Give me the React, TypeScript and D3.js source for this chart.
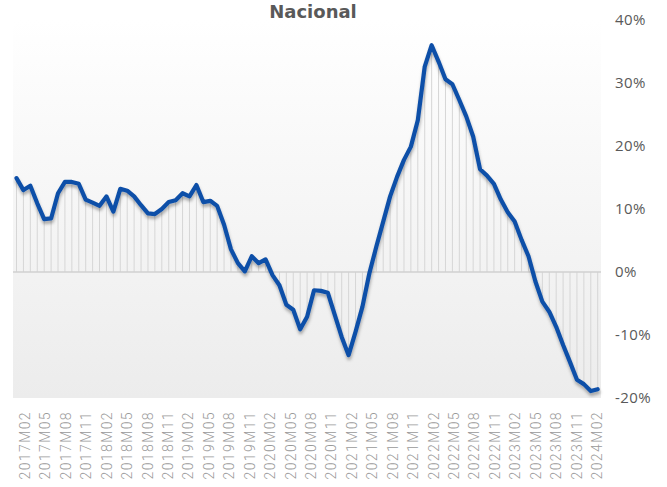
import React from "react";
import * as d3 from "d3";

const W = 667;
const H = 487;

// Monthly categories 2017M02 .. 2024M02
const categories: string[] = [];
for (let y = 2017; y <= 2024; y++) {
  for (let m = 1; m <= 12; m++) {
    if ((y === 2017 && m < 2) || (y === 2024 && m > 2)) continue;
    categories.push(`${y}M${String(m).padStart(2, "0")}`);
  }
}

const values: number[] = [
  14.9, 13.0, 13.7, 10.9, 8.4, 8.5, 12.5, 14.3, 14.3, 14.0,
  11.5, 11.0, 10.5, 12.0, 9.6, 13.2, 12.9, 12.0, 10.6, 9.3,
  9.2, 10.0, 11.1, 11.4, 12.5, 12.0, 13.8, 11.1, 11.3, 10.5,
  7.5, 3.6, 1.4, 0.1, 2.5, 1.4, 2.0, -0.5, -2.1, -5.2,
  -6.0, -9.1, -7.1, -2.9, -3.0, -3.3, -6.8, -10.3, -13.2, -9.5,
  -5.5, -0.2, 4.0, 8.0, 12.0, 15.1, 17.8, 19.9, 24.1, 32.6,
  36.0, 33.4, 30.6, 29.8, 27.3, 24.7, 21.5, 16.3, 15.3, 14.0,
  11.5, 9.5, 8.0, 5.1, 2.5, -1.5, -4.7, -6.3, -8.7, -11.6,
  -14.3, -17.1, -17.8, -18.9, -18.6,
];

const tickLabels: string[] = [
  "2017M02", "2017M05", "2017M08", "2017M11",
  "2018M02", "2018M05", "2018M08", "2018M11",
  "2019M02", "2019M05", "2019M08", "2019M11",
  "2020M02", "2020M05", "2020M08", "2020M11",
  "2021M02", "2021M05", "2021M08", "2021M11",
  "2022M02", "2022M05", "2022M08", "2022M11",
  "2023M02", "2023M05", "2023M08", "2023M11",
  "2024M02",
];

const yTicks: number[] = [-20, -10, 0, 10, 20, 30, 40];

const title = "Nacional";

export default function App() {
  const plotLeft = 13;
  const plotRight = 601;
  const plotTop = 20;
  const plotBottom = 398;

  const x = d3
    .scalePoint<string>()
    .domain(categories)
    .range([16.5, 597.7]);
  const xLabel = d3
    .scalePoint<string>()
    .domain(categories)
    .range([25, 597]);
  const y = d3.scaleLinear().domain([-20, 40]).range([plotBottom, plotTop]);

  const data = categories.map((c, i) => ({ c, v: values[i] }));
  const line = d3
    .line<{ c: string; v: number }>()
    .x((d) => x(d.c) as number)
    .y((d) => y(d.v));

  return (
    <svg
      width={W}
      height={H}
      style={{ position: "absolute", left: 0, top: 0, background: "#fff" }}
    >
      <defs>
        <linearGradient id="bg" x1="0" y1="0" x2="0" y2="1">
          <stop offset="0" stopColor="#ffffff" />
          <stop offset="1" stopColor="#ececec" />
        </linearGradient>
        <filter id="shadow" x="-5%" y="-5%" width="110%" height="115%">
          <feDropShadow dx="0.5" dy="3" stdDeviation="1.8" floodColor="#000" floodOpacity="0.3" />
        </filter>
      </defs>
      <rect
        x={plotLeft}
        y={plotTop}
        width={plotRight - plotLeft}
        height={plotBottom - plotTop}
        fill="url(#bg)"
      />
      {/* drop lines */}
      {data.map((d) => (
        <line
          key={d.c}
          x1={x(d.c)}
          x2={x(d.c)}
          y1={y(0)}
          y2={y(d.v)}
          stroke="#d6d6d6"
          strokeWidth={1}
        />
      ))}
      {/* zero line */}
      <line
        x1={plotLeft}
        x2={plotRight}
        y1={y(0)}
        y2={y(0)}
        stroke="#d0d0d0"
        strokeWidth={1.5}
      />
      <path
        d={line(data) || ""}
        fill="none"
        stroke="#0f4fa8"
        strokeWidth={4.2}
        strokeLinejoin="round"
        strokeLinecap="round"
        filter="url(#shadow)"
      />
      {/* y labels */}
      {yTicks.map((t) => (
        <text
          key={t}
          x={615}
          y={y(t)}
          dy="0.36em"
          fontFamily="'Open Sans', sans-serif"
          fontSize={15}
          fill="#595959"
          letterSpacing={0.4}
        >
          {`${t}%`}
        </text>
      ))}
      {/* x labels */}
      {tickLabels.map((t) => (
        <text
          key={t}
          transform={`translate(${xLabel(t)},${411}) rotate(-90)`}
          textAnchor="end"
          dy="0.36em"
          fontFamily="Roboto, sans-serif"
          fontWeight={300}
          fontSize={14}
          fill="#9a9a9a"
          letterSpacing={1.4}
        >
          {t}
        </text>
      ))}
      <text
        x={313}
        y={12}
        dy="0.36em"
        textAnchor="middle"
        fontFamily="'DejaVu Sans', sans-serif"
        fontWeight="bold"
        fontSize={18}
        fill="#595959"
      >
        {title}
      </text>
    </svg>
  );
}
